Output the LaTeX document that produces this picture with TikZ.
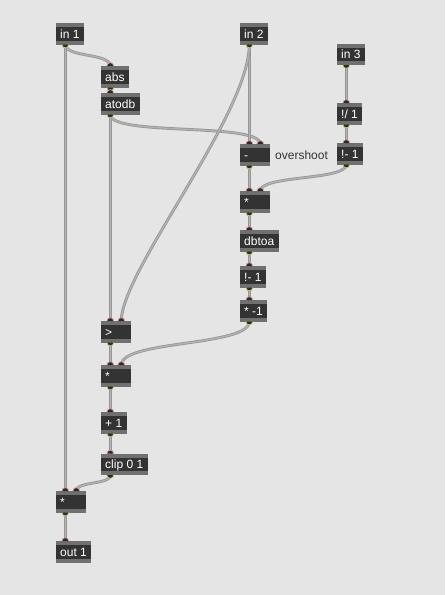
\documentclass[tikz,border=0pt]{standalone}
\usepackage{fontspec}
\setmainfont{Liberation Sans}
\pgfdeclarelayer{bg}
\pgfdeclarelayer{canvas}
\pgfsetlayers{canvas,bg,main}
\definecolor{bgc}{HTML}{E5E5E5}
\definecolor{stripc}{HTML}{707070}
\definecolor{bodyc}{HTML}{333333}
\definecolor{cordedge}{HTML}{979797}
\definecolor{cordmid}{HTML}{B2B2B2}
\definecolor{inletc}{HTML}{E09A96}
\definecolor{outletc}{HTML}{C2CA6A}
\definecolor{portfill}{HTML}{2A2A2A}
\definecolor{labelc}{HTML}{333333}
\tikzset{
  objbox/.style={draw=none, fill=stripc, minimum height=21.5pt, inner sep=0pt, outer sep=0pt, anchor=north west,
    path picture={\fill[bodyc] ([yshift=-4pt]path picture bounding box.north west) rectangle ([yshift=4pt]path picture bounding box.south east);}},
  objtext/.style={anchor=base west, inner sep=0pt, text=white, font=\fontsize{12}{14}\selectfont},
  cmt/.style={anchor=base west, inner sep=0pt, text=labelc, font=\fontsize{12}{14}\selectfont},
  cord/.style={draw=cordedge, line width=0.8pt, double=cordmid, double distance=1.3pt, line cap=round}
}
% #1 name, #2 left, #3 top, #4 width, #5 text
\newcommand\mxobj[5]{%
  \node[objbox, minimum width=#4pt] (#1) at (#2,#3) {};
  \node[objtext] (#1-t) at (#2+4,#3+15) {#5};
  \coordinate (#1-i1) at (#2+9.3,#3);
  \coordinate (#1-i2) at (#2+20.3,#3);
  \coordinate (#1-o) at (#2+9.3,#3+21.5);
}
\newcommand\mxin[1]{%
  \fill[portfill] ([xshift=-3.4pt]#1) arc[start angle=180,end angle=0,radius=3.4pt] -- cycle;
  \draw[inletc, line width=0.8pt] ([xshift=-3.4pt]#1) arc[start angle=180,end angle=0,radius=3.4pt];
}
\newcommand\mxout[1]{%
  \fill[portfill] ([xshift=-3.4pt]#1) arc[start angle=180,end angle=360,radius=3.4pt] -- cycle;
  \draw[outletc, line width=0.8pt] ([xshift=-3.4pt]#1) arc[start angle=180,end angle=360,radius=3.4pt];
}
\begin{document}
\begin{tikzpicture}[x=1pt,y=-1pt]
\begin{pgfonlayer}{canvas}
\fill[bgc] (0,0) rectangle (445,595);
\end{pgfonlayer}
\useasboundingbox (0,0) rectangle (445,595);

\mxobj{in1}{56}{23}{28}{in 1}
\mxobj{abs}{101}{66}{28}{abs}
\mxobj{atodb}{101}{93}{39}{atodb}
\mxobj{in2}{240}{23}{28}{in 2}
\mxobj{in3}{337}{43.5}{28}{in 3}
\mxobj{div}{337}{103}{25}{!/ 1}
\mxobj{rsub1}{337}{143}{26}{!- 1}
\mxobj{minus}{240}{144}{30}{-}
\mxobj{mul1}{240}{191}{30}{*}
\mxobj{dbtoa}{240}{230}{39}{dbtoa}
\mxobj{rsub2}{240}{266}{26}{!- 1}
\mxobj{mulneg}{240}{300}{27}{* -1}
\mxobj{gt}{101}{321}{30}{>}
\mxobj{mul2}{101}{365}{30}{*}
\mxobj{add}{101}{412}{26}{+ 1}
\mxobj{clip}{101}{453.5}{47}{clip 0 1}
\mxobj{mul3}{56}{491}{30}{*}
\mxobj{out1}{56}{541}{35}{out 1}

\node[cmt] (lbl) at (275,159) {overshoot};

\begin{pgfonlayer}{bg}
\draw[cord] (in1-o) .. controls +(0,13) and +(0,-13) .. (abs-i1);
\draw[cord] (in1-o) -- (mul3-i1);
\draw[cord] (abs-o) -- (atodb-i1);
\draw[cord] (atodb-o) -- (gt-i1);
\draw[cord] (atodb-o) .. controls +(0,22) and +(0,-22) .. (minus-i2);
\draw[cord] (in2-o) -- (minus-i1);
\draw[cord] (in2-o) .. controls +(0,70) and +(0,-50) .. (gt-i2);
\draw[cord] (in3-o) -- (div-i1);
\draw[cord] (div-o) -- (rsub1-i1);
\draw[cord] (rsub1-o) .. controls +(0,16) and +(0,-16) .. (mul1-i2);
\draw[cord] (minus-o) -- (mul1-i1);
\draw[cord] (mul1-o) -- (dbtoa-i1);
\draw[cord] (dbtoa-o) -- (rsub2-i1);
\draw[cord] (rsub2-o) -- (mulneg-i1);
\draw[cord] (mulneg-o) .. controls +(0,25) and +(0,-25) .. (mul2-i2);
\draw[cord] (gt-o) -- (mul2-i1);
\draw[cord] (mul2-o) -- (add-i1);
\draw[cord] (add-o) -- (clip-i1);
\draw[cord] (clip-o) .. controls +(0,10) and +(0,-10) .. (mul3-i2);
\draw[cord] (mul3-o) -- (out1-i1);
\end{pgfonlayer}

% ports
\mxout{in1-o}
\mxin{abs-i1}\mxout{abs-o}
\mxin{atodb-i1}\mxout{atodb-o}
\mxout{in2-o}
\mxout{in3-o}
\mxin{div-i1}\mxout{div-o}
\mxin{rsub1-i1}\mxout{rsub1-o}
\mxin{minus-i1}\mxin{minus-i2}\mxout{minus-o}
\mxin{mul1-i1}\mxin{mul1-i2}\mxout{mul1-o}
\mxin{dbtoa-i1}\mxout{dbtoa-o}
\mxin{rsub2-i1}\mxout{rsub2-o}
\mxin{mulneg-i1}\mxout{mulneg-o}
\mxin{gt-i1}\mxin{gt-i2}\mxout{gt-o}
\mxin{mul2-i1}\mxin{mul2-i2}\mxout{mul2-o}
\mxin{add-i1}\mxout{add-o}
\mxin{clip-i1}\mxout{clip-o}
\mxin{mul3-i1}\mxin{mul3-i2}\mxout{mul3-o}
\mxin{out1-i1}
\end{tikzpicture}
\end{document}
